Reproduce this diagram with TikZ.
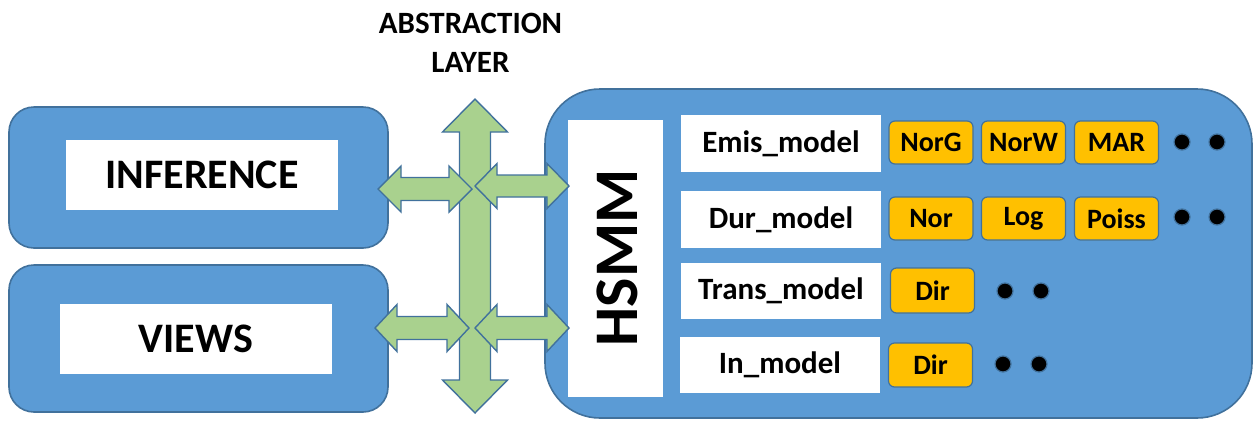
\documentclass[tikz,border=0pt]{standalone}
\usepackage{fontspec}
\setmainfont{Carlito}
\definecolor{boxblue}{HTML}{5B9BD5}
\definecolor{edgeblue}{HTML}{41719C}
\definecolor{arrowgreen}{HTML}{A9D18E}
\definecolor{chipgold}{HTML}{FFC000}
\tikzset{
  panel/.style={draw=edgeblue, line width=1.6pt, fill=boxblue, rounded corners=#1, inner sep=0pt},
  panel/.default=25pt,
  label box/.style={fill=white, inner sep=0pt, font=\bfseries\fontsize{31}{36}\selectfont},
  chip/.style={draw=edgeblue, line width=1.2pt, fill=chipgold, rounded corners=6pt,
    minimum width=84pt, minimum height=43pt, inner sep=0pt, font=\bfseries\fontsize{28}{32}\selectfont},
  ellipsis dot/.style={circle, draw=edgeblue, line width=1.2pt, fill=black, minimum size=16pt, inner sep=0pt},
  blockarrow/.style={draw=edgeblue, line width=1.4pt, fill=arrowgreen, line join=miter}
}
% horizontal double arrow: x-left, x-right, y, head length, head half-width, shaft half-width
\newcommand{\hdblarrow}[6]{%
  \draw[blockarrow] (#1,#3) -- (#1+#4,#3-#5) -- (#1+#4,#3-#6) -- (#2-#4,#3-#6)
    -- (#2-#4,#3-#5) -- (#2,#3) -- (#2-#4,#3+#5) -- (#2-#4,#3+#6)
    -- (#1+#4,#3+#6) -- (#1+#4,#3+#5) -- cycle;}
% vertical double arrow: y-top, y-bottom, x, head length, head half-width, shaft half-width
\newcommand{\vdblarrow}[6]{%
  \draw[blockarrow] (#3,#1) -- (#3+#5,#1+#4) -- (#3+#6,#1+#4) -- (#3+#6,#2-#4)
    -- (#3+#5,#2-#4) -- (#3,#2) -- (#3-#5,#2-#4) -- (#3-#6,#2-#4)
    -- (#3-#6,#1+#4) -- (#3-#5,#1+#4) -- cycle;}
\begin{document}
\begin{tikzpicture}[x=1pt, y=-1pt]
\useasboundingbox (0,0) rectangle (1258,421);

% left-hand modules
\node[panel, minimum width=379pt, minimum height=141pt] (infpanel) at (198.5,177.5) {};
\node[label box, minimum width=272pt, minimum height=70pt, font=\bfseries\fontsize{42}{48}\selectfont]
  (inference) at (202,175) {INFERENCE};
\node[panel, minimum width=379pt, minimum height=147pt] (viewpanel) at (198.5,338.5) {};
\node[label box, minimum width=272pt, minimum height=70pt, font=\bfseries\fontsize{42}{48}\selectfont]
  (views) at (196,339) {VIEWS};

% model container
\node[panel=55pt, minimum width=707pt, minimum height=329pt] (modelpanel) at (898.5,253.5) {};
\node[label box, minimum width=95pt, minimum height=277pt] (hsmmbox) at (615.5,258.5) {};
\node[rotate=90, font=\bfseries\fontsize{62}{70}\selectfont, inner sep=0pt] (hsmm) at (617,258) {HSMM};

\node[label box, minimum width=200pt, minimum height=57pt] (emis) at (781,143.5) {Emis\_model};
\node[label box, minimum width=200pt, minimum height=57pt] (dur) at (781,219.5) {Dur\_model};
\node[label box, minimum width=200pt, minimum height=56pt] (trans) at (781,291) {Trans\_model};
\node[label box, minimum width=200pt, minimum height=56pt] (init) at (780,365) {In\_model};

% component options
\node[chip] (norg) at (931,142.5) {NorG};
\node[chip] (norw) at (1023.5,142.5) {NorW};
\node[chip] (mar) at (1116.5,142.5) {MAR};
\node[ellipsis dot] (e1) at (1182,142) {};
\node[ellipsis dot] (e2) at (1217,142) {};

\node[chip] (nor) at (931,218.5) {Nor};
\node[chip] (lognorm) at (1023.5,218.5) {Log};
\node[chip] (poiss) at (1116.5,218.5) {Poiss};
\node[ellipsis dot] (d1) at (1182,217) {};
\node[ellipsis dot] (d2) at (1217,217) {};

\node[chip, minimum height=45pt] (dirt) at (932.5,290.5) {Dir};
\node[ellipsis dot] (t1) at (1005,291) {};
\node[ellipsis dot] (t2) at (1041,291) {};

\node[chip, minimum height=44pt] (diri) at (930.5,365) {Dir};
\node[ellipsis dot] (i1) at (1003,364) {};
\node[ellipsis dot] (i2) at (1039,364) {};

% abstraction layer
\node[align=center, font=\bfseries\fontsize{31}{39}\selectfont, inner sep=0pt] (abstraction) at (470.5,43) {ABSTRACTION\\LAYER};
\vdblarrow{99}{413}{475}{33}{32.5}{15.5}
\hdblarrow{378}{472}{189}{23}{23}{11.5}
\hdblarrow{475}{569}{186}{22}{22.5}{11}
\hdblarrow{375}{469}{328}{22}{23.5}{11.5}
\hdblarrow{475}{569}{328}{22}{23.5}{11.5}
\end{tikzpicture}
\end{document}
